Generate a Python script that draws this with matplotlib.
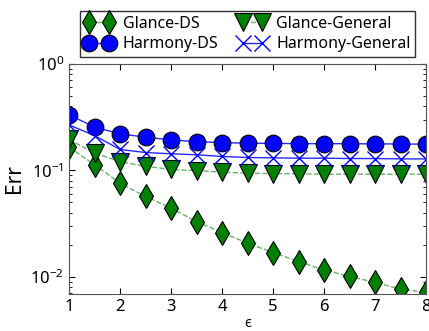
import numpy as np
import matplotlib
matplotlib.use("Agg")
import matplotlib.pyplot as plt

plt.rcParams["font.family"] = ["Noto Sans", "DejaVu Sans"]
plt.rcParams["mathtext.default"] = "regular"

# epsilon values
eps = [1, 1.5, 2, 2.5, 3, 3.5, 4, 4.5, 5, 5.5, 6, 6.5, 7, 7.5, 8]

glance_ds = [0.165, 0.113, 0.0758, 0.0568, 0.0442, 0.033, 0.026, 0.0207,
             0.0169, 0.0139, 0.0116, 0.0101, 0.00885, 0.00766, 0.00713]
glance_general = [0.195, 0.145, 0.121, 0.109, 0.102, 0.0995, 0.096, 0.094,
                  0.093, 0.093, 0.092, 0.092, 0.092, 0.092, 0.092]
harmony_ds = [0.332, 0.255, 0.220, 0.205, 0.193, 0.186, 0.182, 0.180,
              0.179, 0.178, 0.178, 0.178, 0.177, 0.177, 0.176]
harmony_general = [0.267, 0.212, 0.157, 0.147, 0.143, 0.140, 0.135, 0.132,
                   0.131, 0.130, 0.130, 0.129, 0.129, 0.128, 0.128]

light_green = (0.0, 0.5, 0.0, 0.6)
light_blue = (0.0, 0.0, 1.0, 0.85)

fig = plt.figure(figsize=(4.29, 3.31), dpi=100)
ax = fig.add_axes([0.161, 0.112, 0.832, 0.695])

ax.plot(eps, glance_ds, color=light_green, linestyle="--", linewidth=1,
        marker="d", markersize=12.5, markerfacecolor="green", markeredgecolor="black",
        markeredgewidth=0.8, label="Glance-DS")
ax.plot(eps, harmony_ds, color=light_blue, linestyle="-", linewidth=1,
        marker="o", markersize=12, markerfacecolor="blue", markeredgecolor="black",
        markeredgewidth=0.8, label="Harmony-DS")
ax.plot(eps, glance_general, color=light_green, linestyle="--", linewidth=1,
        marker="v", markersize=13, markerfacecolor="green", markeredgecolor="black",
        markeredgewidth=0.8, label="Glance-General")
ax.plot(eps, harmony_general, color=light_blue, linestyle="-", linewidth=1,
        marker="x", markersize=12, markeredgecolor="blue", markeredgewidth=1,
        label="Harmony-General")

ax.set_yscale("log")
ax.set_xlim(1, 8)
ax.set_ylim(0.0069, 1.0)
ax.set_xticks(range(1, 9))
ax.tick_params(axis="both", which="both", direction="in", top=True, right=True,
               labelsize=12)
ax.tick_params(which="major", length=4)
ax.tick_params(which="minor", length=2)
for s in ax.spines.values():
    s.set_color("#555555")

ax.set_xlabel("\u03f5", fontsize=10, labelpad=1)
ax.set_ylabel("Err", fontsize=15)

fig.legend(loc="center", bbox_to_anchor=(0.577, 0.897), ncol=2, numpoints=2,
           fontsize=11.5, frameon=True, fancybox=False, edgecolor="black",
           handlelength=1.8, columnspacing=1.2, borderpad=0.3, labelspacing=0.3,
           handletextpad=0.6)

fig.savefig("out.png", dpi=100)
